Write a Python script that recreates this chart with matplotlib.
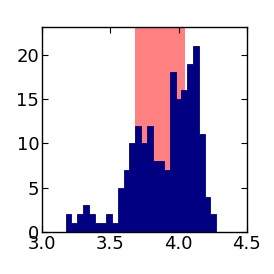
import numpy as np
import matplotlib
matplotlib.use('Agg')
import matplotlib.pyplot as plt

# histogram counts (26 equal bins)
counts = [2, 1, 2, 3, 2, 1, 1, 2, 1, 5, 7, 10, 12, 10, 12, 8, 8, 7,
          18, 15, 16, 19, 21, 11, 4, 2]
x_start = 3.173
x_end = 4.276
span_lo = 3.68
span_hi = 4.048

edges = np.linspace(x_start, x_end, len(counts) + 1)
centers = 0.5 * (edges[:-1] + edges[1:])

fig = plt.figure(figsize=(2.74, 2.74), dpi=100)
ax = fig.add_axes([0.153, 0.153, 0.748, 0.748])

ax.axvspan(span_lo, span_hi, color='#ff8080', lw=0, zorder=1)
ax.hist(centers, bins=edges, weights=counts, histtype='stepfilled',
        facecolor='#000080', edgecolor='#000080', lw=0.6, zorder=2)

ax.set_xlim(3.0, 4.5)
ax.set_ylim(0, 23.1)
ax.set_xticks([3.0, 3.5, 4.0, 4.5])
ax.set_yticks([0, 5, 10, 15, 20])
ax.tick_params(direction='in', top=True, right=True, length=4,
               labelsize=13, pad=2)
for s in ax.spines.values():
    s.set_linewidth(1.0)

fig.savefig('out.png', dpi=100)
